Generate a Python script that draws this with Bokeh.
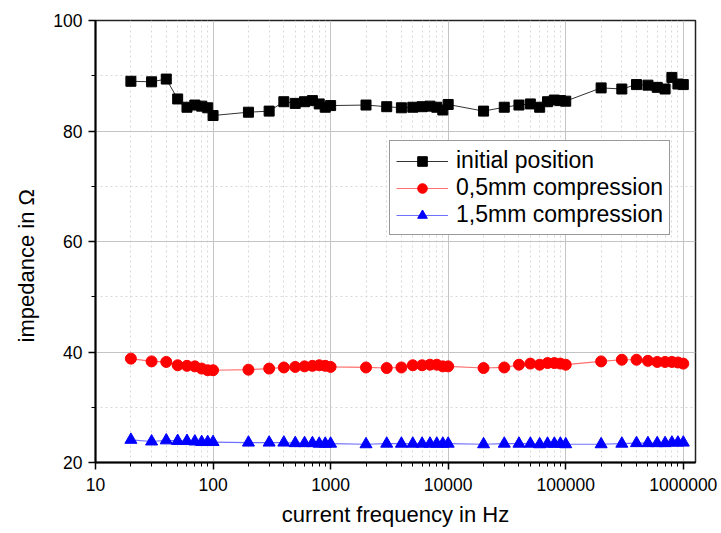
from bokeh.plotting import figure
from bokeh.models import (FixedTicker, Range1d, Legend, LegendItem, Title)
from bokeh.embed import file_html
from bokeh.resources import INLINE

freq = [20, 30, 40, 50, 60, 70, 80, 90, 100,
        200, 300, 400, 500, 600, 700, 800, 900, 1000,
        2000, 3000, 4000, 5000, 6000, 7000, 8000, 9000, 10000,
        20000, 30000, 40000, 50000, 60000, 70000, 80000, 90000, 100000,
        200000, 300000, 400000, 500000, 600000, 700000, 800000, 900000, 1000000]

initial = [89.0, 88.9, 89.4, 85.8, 84.3, 84.7, 84.5, 84.2, 82.8,
           83.4, 83.6, 85.3, 85.0, 85.3, 85.5, 84.9, 84.3, 84.6,
           84.7, 84.4, 84.2, 84.3, 84.4, 84.5, 84.3, 83.8, 84.8,
           83.6, 84.3, 84.7, 84.9, 84.3, 85.3, 85.6, 85.5, 85.4,
           87.8, 87.6, 88.4, 88.3, 87.9, 87.6, 89.7, 88.5, 88.4]

comp05 = [38.8, 38.3, 38.2, 37.6, 37.5, 37.4, 37.0, 36.7, 36.7,
          36.8, 37.0, 37.2, 37.3, 37.4, 37.5, 37.6, 37.5, 37.3,
          37.2, 37.1, 37.2, 37.6, 37.6, 37.7, 37.7, 37.4, 37.4,
          37.1, 37.2, 37.7, 37.9, 37.7, 38.0, 38.0, 37.9, 37.7,
          38.3, 38.6, 38.6, 38.4, 38.2, 38.2, 38.2, 38.1, 37.9]

comp15 = [24.1, 23.8, 24.0, 23.9, 23.9, 23.8, 23.7, 23.7, 23.7,
          23.6, 23.6, 23.6, 23.5, 23.5, 23.5, 23.4, 23.4, 23.4,
          23.3, 23.4, 23.4, 23.4, 23.4, 23.4, 23.4, 23.4, 23.4,
          23.3, 23.4, 23.4, 23.4, 23.3, 23.4, 23.4, 23.4, 23.3,
          23.3, 23.4, 23.5, 23.5, 23.5, 23.5, 23.6, 23.6, 23.6]

x_ticks = [10, 100, 1000, 10000, 100000, 1000000]
x_tick_labels = ["10", "100", "1000", "10000", "100000", "1000000"]
y_ticks = [20, 40, 60, 80, 100]
y_minor = [30, 50, 70, 90]
series_names = ["initial position", "0,5mm compression", "1,5mm compression"]
x_title = "current frequency in Hz"
y_title = "impedance in Ω"

FONT = "Liberation Sans"

p = figure(width=721, height=533, x_axis_type="log",
           x_range=Range1d(10, 1.27e6), y_range=Range1d(20, 100),
           output_backend="svg", toolbar_location=None,
           min_border_left=94, min_border_right=26, min_border_top=20,
           min_border_bottom=71)
p.background_fill_color = "white"
p.border_fill_color = "white"
p.outline_line_color = "#222222"
p.outline_line_width = 1.5

x_minor = [m * d for d in [10, 100, 1000, 10000, 100000, 1000000] for m in range(2, 10)]
p.xaxis.ticker = FixedTicker(ticks=x_ticks, minor_ticks=x_minor)
p.yaxis.ticker = FixedTicker(ticks=y_ticks, minor_ticks=y_minor)
p.xaxis.major_label_overrides = {t: l for t, l in zip(x_ticks, x_tick_labels)}

for ax in [p.xaxis[0], p.yaxis[0]]:
    ax.axis_line_width = 2
    ax.axis_line_color = "black"
    ax.major_tick_line_color = "black"
    ax.minor_tick_line_color = "black"
    ax.major_tick_line_width = 1.5
    ax.minor_tick_line_width = 1
    ax.major_tick_out = 7
    ax.major_tick_in = 0
    ax.minor_tick_out = 4
    ax.minor_tick_in = 0
    ax.major_label_text_font = FONT
    ax.major_label_text_font_size = "17.5px"
    ax.major_label_text_color = "black"

p.xaxis.major_label_standoff = 8
p.yaxis.major_label_standoff = 6

for g in [p.xgrid[0], p.ygrid[0]]:
    g.grid_line_color = "#c4c4c4"
    g.grid_line_width = 1
    g.minor_grid_line_color = "#d8d8d8"
    g.minor_grid_line_dash = "2 3"
    g.minor_grid_line_width = 1

xt = Title(text=x_title, align="center", text_font=FONT, text_font_size="22px",
           text_font_style="normal", text_color="black", standoff=12, offset=0)
yt = Title(text=y_title, align="left", text_font=FONT, text_font_size="22px",
           text_font_style="normal", text_color="black", standoff=23, offset=120)
p.add_layout(xt, "below")
p.add_layout(yt, "left")

r1l = p.line(freq, initial, line_color="#333333", line_width=1)
r1m = p.scatter(freq, initial, marker="square", size=10, fill_color="black", line_color="black")
r2l = p.line(freq, comp05, line_color="#ff7070", line_width=1.2)
r2m = p.scatter(freq, comp05, marker="circle", size=11, fill_color="red", line_color="red")
r3l = p.line(freq, comp15, line_color="#7070ff", line_width=1.2)
r3m = p.scatter(freq, comp15, marker="triangle", size=12, fill_color="blue", line_color="blue")

legend = Legend(items=[LegendItem(label=series_names[0], renderers=[r1l, r1m]),
                       LegendItem(label=series_names[1], renderers=[r2l, r2m]),
                       LegendItem(label=series_names[2], renderers=[r3l, r3m])],
                location=(294, 227))
legend.label_text_font = FONT
legend.label_text_font_size = "23px"
legend.label_text_color = "black"
legend.glyph_width = 52
legend.glyph_height = 24
legend.label_height = 24
legend.spacing = 0
legend.padding = 6
legend.margin = 0
legend.label_standoff = 8
legend.border_line_color = "#333333"
legend.border_line_width = 1
legend.background_fill_alpha = 1
p.add_layout(legend)

open("out.html", "w").write(file_html(p, INLINE))
